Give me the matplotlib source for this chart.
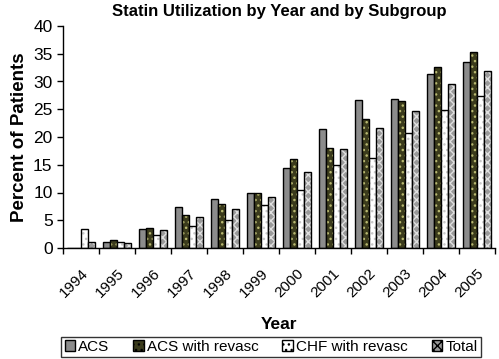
import matplotlib
matplotlib.use("Agg")
import matplotlib.pyplot as plt
import numpy as np

plt.rcParams["font.family"] = ["Liberation Sans", "DejaVu Sans"]
plt.rcParams["hatch.linewidth"] = 1.0

years = ["1994", "1995", "1996", "1997", "1998", "1999",
         "2000", "2001", "2002", "2003", "2004", "2005"]
acs = [0, 1.0, 3.5, 7.3, 8.9, 10.0, 14.5, 21.4, 26.7, 26.8, 31.4, 33.5]
acs_revasc = [0, 1.4, 3.6, 5.9, 7.9, 10.0, 16.0, 18.1, 23.2, 26.5, 32.7, 35.4]
chf_revasc = [3.5, 1.1, 2.3, 4.0, 5.1, 7.8, 10.4, 15.0, 16.3, 20.8, 24.9, 27.3]
total = [1.0, 0.9, 3.2, 5.6, 7.1, 9.2, 13.7, 17.8, 21.7, 24.6, 29.5, 31.9]

series = [
    ("ACS", acs, "#8c8c8c", None, None),
    ("ACS with revasc", acs_revasc, "#3b3b1c", "...", "#b8b870"),
    ("CHF with revasc", chf_revasc, "#ffffff", "...", "#c8c8c8"),
    ("Total", total, "#9a9a9a", "xxxx", "#e0e0e0"),
]

fig = plt.figure(figsize=(4.99, 3.59), dpi=100)
ax = fig.add_axes([63 / 499, 1 - 248 / 359, 432 / 499, 222 / 359])

x = np.arange(len(years))
w = 0.19
handles = []
for i, (name, vals, fc, hatch, hc) in enumerate(series):
    pos = x + (i - 1.5) * w
    if hatch:
        ax.bar(pos, vals, w, color=fc, edgecolor=hc, hatch=hatch, linewidth=0)
    ax.bar(pos, vals, w, facecolor="none" if hatch else fc,
           edgecolor="black", linewidth=1.0)
    h = plt.Rectangle((0, 0), 1, 1, facecolor=fc, edgecolor="black",
                      hatch=hatch, linewidth=1.0)
    handles.append(h)

ax.set_xlim(-0.5, len(years) - 0.5)
ax.set_ylim(0, 40)
ax.set_yticks(np.arange(0, 41, 5))
ax.tick_params(axis="y", labelsize=12.5, length=4, width=1, direction="out")
ax.set_xticks(np.arange(-0.5, len(years), 1))
ax.set_xticklabels([])
ax.tick_params(axis="x", length=4, width=1, direction="out")
ax.set_xticks(x, minor=True)
ax.set_xticklabels(years, minor=True, rotation=45, ha="right",
                   rotation_mode="anchor", fontsize=11)
ax.tick_params(axis="x", which="minor", length=0, pad=13)

for s in ["top", "right"]:
    ax.spines[s].set_visible(False)
ax.spines["left"].set_linewidth(1)
ax.spines["bottom"].set_linewidth(1)

ax.set_ylabel("Percent of Patients", fontsize=13.5, fontweight="bold", labelpad=4)
ax.set_xlabel("Year", fontsize=12.5, fontweight="bold", labelpad=12)
ax.set_title("Statin Utilization by Year and by Subgroup", fontsize=12,
             fontweight="bold", pad=7)

leg = fig.legend(handles, [s[0] for s in series], loc="center",
                 bbox_to_anchor=(271 / 499, 1 - 347 / 359), ncol=4,
                 fontsize=11, frameon=True, fancybox=False, edgecolor="black",
                 handlelength=0.7, handleheight=0.7, handletextpad=0.2,
                 columnspacing=1.55, borderpad=0.2)
leg.get_frame().set_linewidth(1)

fig.savefig("out.png", dpi=100)
